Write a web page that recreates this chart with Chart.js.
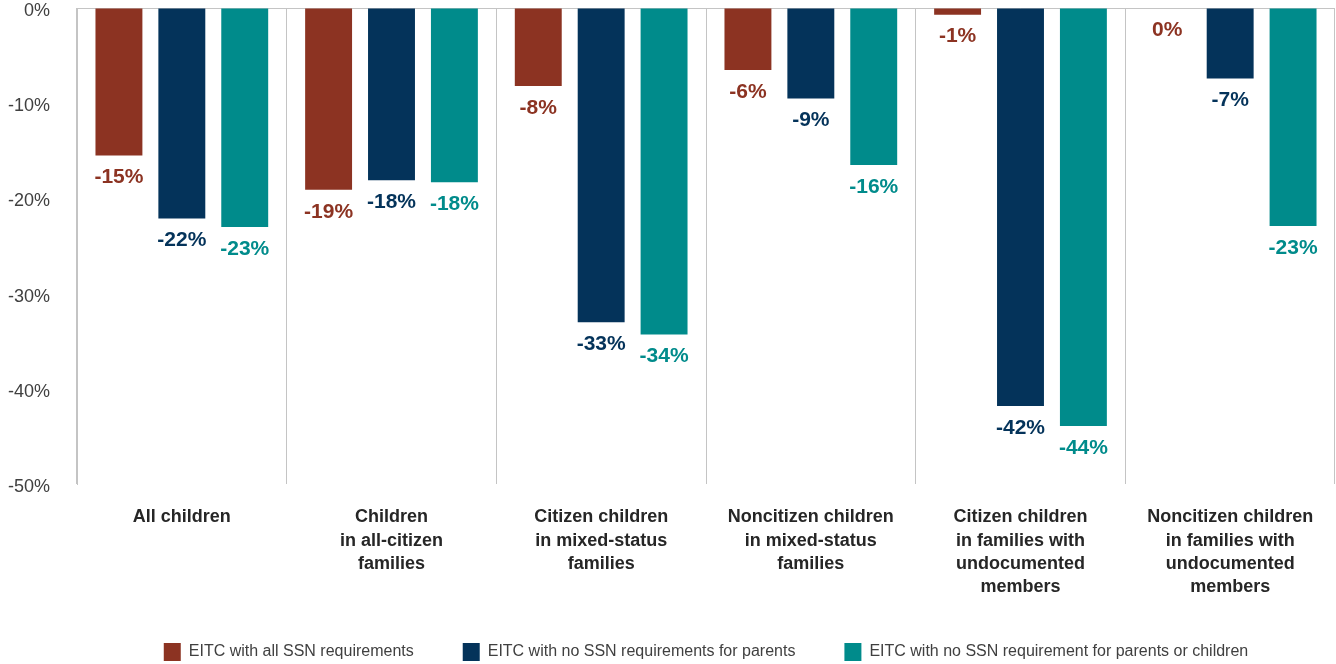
<!DOCTYPE html>
<html>
<head>
<meta charset="utf-8">
<script src="https://cdn.jsdelivr.net/npm/chart.js@4/dist/chart.umd.min.js"></script>
<style>
  html, body { margin: 0; padding: 0; background: #fff; }
  #wrap { width: 1336px; height: 664px; }
</style>
</head>
<body>
<div id="wrap"><canvas id="chart"></canvas></div>
<script>
// categories (x axis, multi-line)
const categorias = [
    ["All children"],
    ["Children", "in all-citizen", "families"],
    ["Citizen children", "in mixed-status", "families"],
    ["Noncitizen children", "in mixed-status", "families"],
    ["Citizen children", "in families with", "undocumented", "members"],
    ["Noncitizen children", "in families with", "undocumented", "members"]
];

// % change
const todosSSN = [-15.5, -19.1, -8.2, -6.5, -0.7, 0];
const semSSNPais = [-22.1, -18.1, -33.0, -9.5, -41.8, -7.4];
const semSSNPaisFilhos = [-23.0, -18.3, -34.3, -16.5, -43.9, -22.9];

const nomesSeries = [
    "EITC with all SSN requirements",
    "EITC with no SSN requirements for parents",
    "EITC with no SSN requirement for parents or children"
];

const yTicks = [0, -10, -20, -30, -40, -50];

const cores = ["#8c3322", "#04335a", "#008b8b"];
const fonte = "'Liberation Sans', Arial, sans-serif";
const cinza = "#c4c4c4";

// value labels under each bar
const rotulos = {
    id: "rotulos",
    afterDatasetsDraw(chart) {
        const ctx = chart.ctx;
        ctx.save();
        ctx.font = "bold 21px " + fonte;
        ctx.textAlign = "center";
        ctx.textBaseline = "middle";
        chart.data.datasets.forEach((ds, i) => {
            const meta = chart.getDatasetMeta(i);
            meta.data.forEach((bar, j) => {
                const v = Math.round(ds.data[j]);
                ctx.fillStyle = cores[i];
                ctx.fillText((v === 0 ? 0 : v) + "%", bar.x, bar.y + 22);
            });
        });
        ctx.restore();
    }
};

const series = [todosSSN, semSSNPais, semSSNPaisFilhos];

new Chart(document.querySelector("#chart"), {
    type: "bar",
    data: {
        labels: categorias,
        datasets: series.map((s, i) => ({
            label: nomesSeries[i],
            data: s,
            backgroundColor: cores[i],
            borderWidth: 0,
            categoryPercentage: 0.9,
            barPercentage: 0.746
        }))
    },
    options: {
        responsive: true,
        maintainAspectRatio: false,
        animation: false,
        layout: {
            padding: { top: 8, left: 0, right: 1, bottom: -7 }
        },
        plugins: {
            tooltip: { enabled: false },
            legend: {
                position: "bottom",
                fullSize: false,
                labels: {
                    boxWidth: 17,
                    boxHeight: 18,
                    padding: 49,
                    color: "#404040",
                    font: { family: fonte, size: 16 }
                }
            }
        },
        scales: {
            x: {
                afterFit(scale) {
                    scale.height = 110;
                },
                grid: {
                    offset: true,
                    color: cinza,
                    lineWidth: 1,
                    drawTicks: false
                },
                border: { display: false },
                ticks: {
                    autoSkip: false,
                    maxRotation: 0,
                    padding: 22,
                    color: "#262626",
                    font: { family: fonte, size: 18, weight: "bold", lineHeight: 1.28 }
                }
            },
            y: {
                min: -50,
                max: 0,
                afterBuildTicks(scale) {
                    scale.ticks = yTicks.map(v => ({ value: v }));
                },
                afterFit(scale) {
                    scale.width = 77;
                    scale.paddingTop = 0;
                    scale.paddingBottom = 0;
                },
                grid: {
                    drawTicks: false,
                    color: c => (c.tick && c.tick.value === 0 ? cinza : "rgba(0,0,0,0)")
                },
                border: { display: true, color: cinza },
                ticks: {
                    padding: 27,
                    labelOffset: 3,
                    color: "#404040",
                    font: { family: fonte, size: 18, lineHeight: 1 },
                    callback: v => v + "%"
                }
            }
        }
    },
    plugins: [rotulos]
});
</script>
</body>
</html>
